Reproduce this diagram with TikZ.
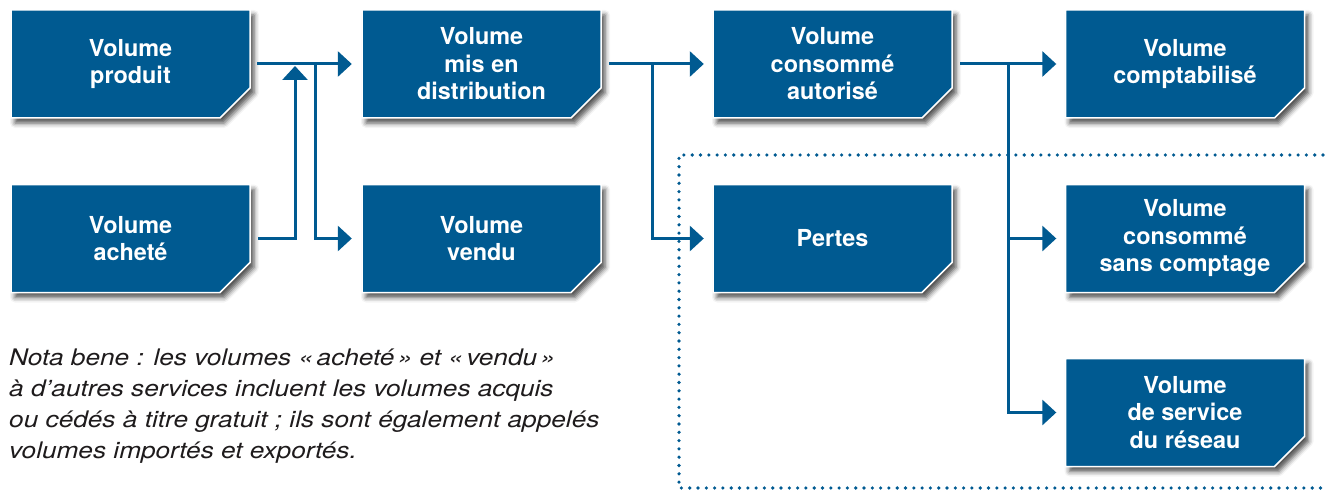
\documentclass[tikz,border=0pt]{standalone}
\usepackage{fontspec}
\setsansfont{TeX Gyre Heros}
\newfontfamily\notafont[FakeStretch=1.15]{TeX Gyre Heros}
\usetikzlibrary{shadows.blur,arrows.meta}
\definecolor{vblue}{RGB}{0,90,145}
\definecolor{ntext}{RGB}{30,27,28}
% name, x, y, text : draws the cut-corner box and places the named node on it
\newcommand\volbox[4]{%
  \path[vshape] (#2-119.5,#3-54) -- (#2+119.5,#3-54) -- (#2+119.5,#3+24)
    -- (#2+89.5,#3+54) -- (#2-119.5,#3+54) -- cycle;
  \node[vbox] (#1) at (#2,#3) {#4};}
\newcommand\gsp{\kern3.5pt}
\begin{document}
\begin{tikzpicture}[x=1pt,y=-1pt,
  vbox/.style={rectangle, minimum width=239pt, minimum height=108pt, inner sep=0pt,
    text=white, align=center,
    font=\sffamily\bfseries\fontsize{23.4}{27.5}\selectfont},
  vshape/.style={fill=vblue, draw=white, line width=1.5pt, line join=miter,
    blur shadow={shadow xshift=4pt, shadow yshift=-5pt, shadow blur radius=5pt, shadow opacity=70}},
  conn/.style={draw=vblue, line width=3pt, -{Triangle[length=14pt,width=25pt]}},
  dotline/.style={draw=vblue, line width=3.6pt, line cap=round, dash pattern=on 0pt off 8.3pt}
]
\useasboundingbox (0,0) rectangle (1325,492);

% dotted frame
\coordinate (d1) at (1323,155);
\coordinate (d2) at (679,155);
\coordinate (d3) at (679,488);
\coordinate (d4) at (1323,488);
\draw[dotline] (d1) -- (d2) -- (d3) -- (d4);

% boxes
\volbox{prod}{130.5}{64}{Volume\\produit}
\volbox{ach}{130.5}{238.5}{Volume\\acheté}
\volbox{mis}{481.5}{64}{Volume\\mis en\\distribution}
\volbox{vend}{481.5}{238.5}{Volume\\vendu}
\volbox{cons}{832.5}{64}{Volume\\consommé\\autorisé}
\volbox{pert}{832.5}{238.5}{Pertes}
\volbox{compt}{1185}{64}{Volume\\comptabilisé}
\volbox{sans}{1185}{238.5}{Volume\\consommé\\sans comptage}
\volbox{serv}{1185}{412.5}{Volume\\de service\\du réseau}

% junctions
\coordinate (j1) at (295,64);
\coordinate (j2) at (315,64);
\coordinate (j3) at (652,64);
\coordinate (j4) at (1008,64);

% connectors
\draw[conn] ([xshift=7pt]prod.east) -- ([xshift=-10pt]mis.west);
\draw[conn] ([xshift=8pt]ach.east) -| ([yshift=-2pt]j1);
\draw[conn] (j2) |- ([xshift=-10pt]vend.west);
\draw[conn] ([xshift=8pt]mis.east) -- ([xshift=-9pt]cons.west);
\draw[conn] (j3) |- ([xshift=-9pt]pert.west);
\draw[conn] ([xshift=8pt]cons.east) -- ([xshift=-9pt]compt.west);
\draw[conn] (j4) |- ([xshift=-9pt]sans.west);
\draw[conn] (j4) |- ([xshift=-9pt]serv.west);

% note
\node[anchor=base west, align=left, inner sep=0pt, text=ntext,
  font=\notafont\itshape\fontsize{22.8}{30.7}\selectfont] (nota) at (9,458)
  {Nota bene : les volumes «\gsp acheté\gsp» et «\gsp vendu\gsp»\\
   à d’autres services incluent les volumes acquis\\
   ou cédés à titre gratuit ; ils sont également appelés\\
   volumes importés et exportés.};
\end{tikzpicture}
\end{document}
